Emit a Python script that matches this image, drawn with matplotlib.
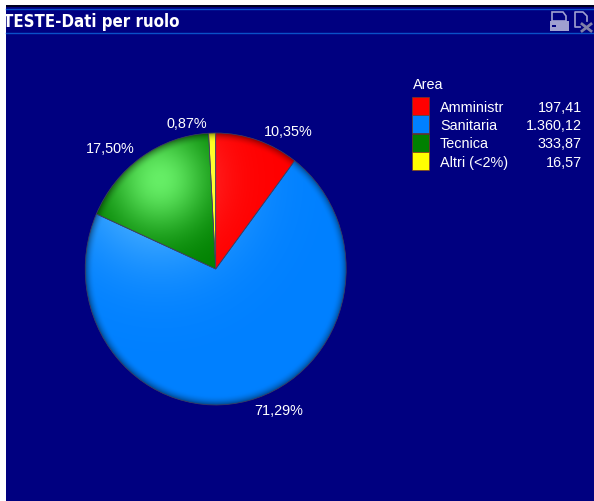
import numpy as np
import matplotlib
matplotlib.use('Agg')
import matplotlib.pyplot as plt
from matplotlib.patches import Rectangle, Polygon

# Data
areas = ['Amministr', 'Sanitaria', 'Tecnica', 'Altri (<2%)']
values = [197.41, 1360.12, 333.87, 16.57]
colors = ['#ff0000', '#0080ff', '#008000', '#ffff00']
glow_colors = ['#ff4848', '#5cbcff', '#66ee66', '#ffff80']
glow_widths = [0.30, 0.42, 0.27, 0.30]

W, H = 594, 502
plt.rcParams['font.family'] = ['Liberation Sans', 'DejaVu Sans']


def it_number(v):
    # 1360.12 -> 1.360,12
    return f'{v:,.2f}'.replace(',', 'X').replace('.', ',').replace('X', '.')


fig = plt.figure(figsize=(W / 100, H / 100), dpi=100, facecolor='white')

# Background layer in pixel coordinates
bg = fig.add_axes([0, 0, 1, 1], zorder=0)
bg.set_xlim(0, W)
bg.set_ylim(H, 0)
bg.axis('off')

panel = Rectangle((6, 6), W - 6, H - 6, color='#000080', lw=0)
bg.add_patch(panel)
bg.add_patch(Rectangle((6, 6), W - 6, 2, color='#000020', lw=0))
bg.plot([6, W], [9.5, 9.5], color='#0a50c8', lw=1.0)
bg.plot([6, W], [33.5, 33.5], color='#0a50c8', lw=1.0)

title = bg.text(3, 22, 'TESTE-Dati per ruolo', color='white', fontsize=12.1,
                fontweight='bold', family='DejaVu Sans', va='center', ha='left',
                fontstretch='condensed')
title.set_clip_path(panel)
title.set_clip_on(True)

# Printer and export icons in the title bar
icon = '#a0a0d0'
bg.add_patch(Polygon([(552, 13), (563, 13), (566, 17), (566, 22), (552, 22)],
                     closed=True, fill=False, ec=icon, lw=1.2))
bg.add_patch(Rectangle((549.5, 22), 19, 9.5, color=icon, lw=0))
bg.add_patch(Rectangle((552, 26), 4, 2, color='#000080', lw=0))
bg.plot([580, 575, 575, 583, 587, 587], [28, 28, 13, 13, 17, 22], color=icon, lw=1.2)
bg.plot([582, 591], [25, 32], color='#8080a8', lw=2)
bg.plot([591, 582], [25, 32], color='#8080a8', lw=2)

# Legend
bg.text(413, 85, 'Area', color='white', fontsize=10.4, va='center', ha='left')
for i, name in enumerate(areas):
    y = 97.5 + i * 18.5
    bg.add_patch(Rectangle((411.5, y), 17, 18, fc=colors[i], ec='#7a3a20', lw=0.5))
    bg.text(440, y + 10, name, color='white', fontsize=10.4, va='center', ha='left')
    bg.text(582, y + 10, it_number(values[i]), color='white', fontsize=10.4,
            va='center', ha='right')

# Pie, slightly taller than wide
cx, cy, rx, ry = 215.7, 270, 130.5, 136
m = 1.3
ax = fig.add_axes([(cx - m * rx) / W, 1 - (cy + m * ry) / H,
                   2 * m * rx / W, 2 * m * ry / H], zorder=1)
ax.patch.set_visible(False)

total = sum(values)
labels = [it_number(v / total * 100) + '%' for v in values]
wedges, texts = ax.pie(values, colors=colors, labels=labels, startangle=90,
                       counterclock=False, labeldistance=1.02,
                       textprops={'color': 'white', 'fontsize': 10.4},
                       wedgeprops={'edgecolor': '#404060', 'linewidth': 0.5})
ax.set_aspect('auto')

for t in texts:
    x, y = t.get_position()
    t.set_x(x + np.sign(x) * 0.04)
    t.set_va('bottom' if y > 0 else 'top')

# Shading: soft highlight at the upper left, dark rim
n = 500
gx, gy = np.meshgrid(np.linspace(-1, 1, n), np.linspace(1, -1, n))
r = np.hypot(gx, gy)
d2 = (gx + 0.43) ** 2 + (gy - 0.66) ** 2
rim = np.clip((r - 0.93) / 0.07, 0, 1) ** 2 * 0.42

for w, base, light, s in zip(wedges, colors, glow_colors, glow_widths):
    c0 = np.array(matplotlib.colors.to_rgb(base))
    c1 = np.array(matplotlib.colors.to_rgb(light))
    glow = np.exp(-d2 / (2 * s ** 2))
    img = c0[None, None, :] + glow[:, :, None] * (c1 - c0)[None, None, :]
    img = img * (1 - rim[:, :, None])
    im = ax.imshow(img, extent=(-1, 1, -1, 1), aspect='auto', zorder=2,
                   interpolation='bilinear')
    im.set_clip_path(w)
    w.set_facecolor('none')
    w.set_zorder(3)

ax.set_xlim(-m, m)
ax.set_ylim(-m, m)

fig.savefig('out.png', dpi=100, facecolor=fig.get_facecolor())
